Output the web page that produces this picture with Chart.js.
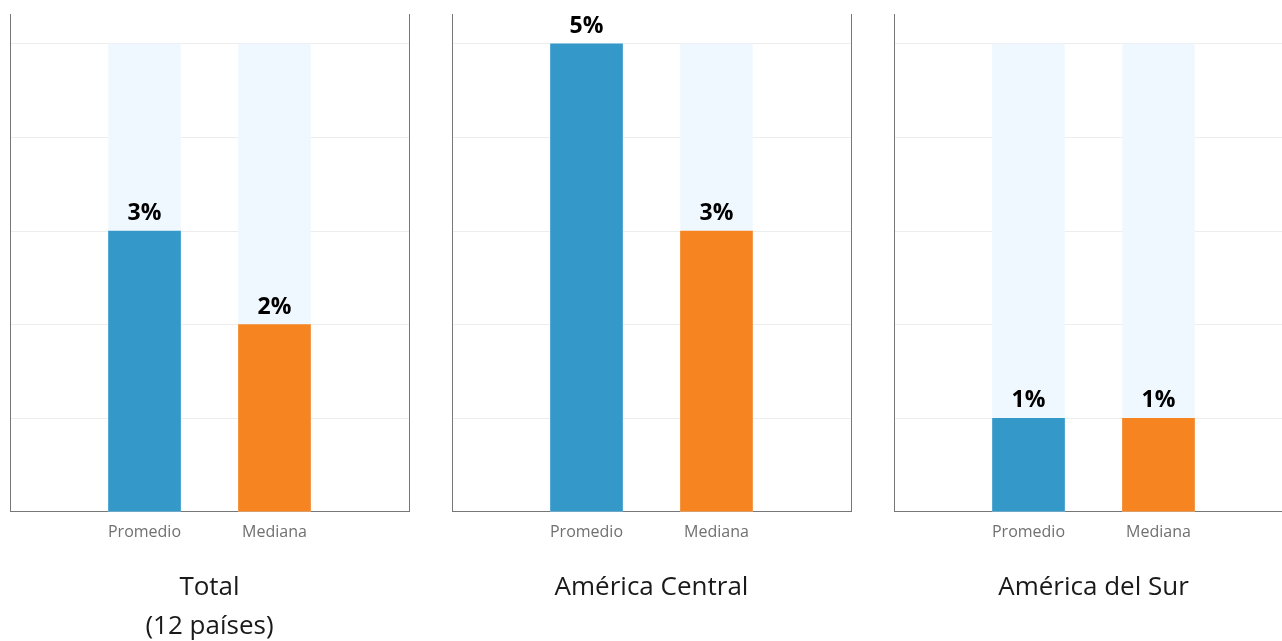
<!DOCTYPE html>
<html>
<head>
<meta charset="utf-8">
<script src="https://cdn.jsdelivr.net/npm/chart.js@4/dist/chart.umd.min.js"></script>
<style>
  html, body { margin: 0; padding: 0; background: #fff; overflow: hidden; }
  #wrap { position: relative; width: 1282px; height: 641px; overflow: hidden; }
  .panel { position: absolute; top: 0; width: 442px; height: 650px; }
</style>
</head>
<body>
<div id="wrap">
  <div class="panel" style="left:0px"><canvas id="c0"></canvas></div>
  <div class="panel" style="left:442px"><canvas id="c1"></canvas></div>
  <div class="panel" style="left:884px"><canvas id="c2"></canvas></div>
</div>
<script>
// data
const categories = ['Promedio', 'Mediana'];
const totalValues = [3, 2];
const centralValues = [5, 3];
const surValues = [1, 1];
const trackValue = 5; // light background bar height
const panelTitles = [
  ['Total', '(12 países)'],
  ['América Central', ''],
  ['América del Sur', '']
];
const panelValues = [totalValues, centralValues, surValues];

const BAR_COLORS = ['#3498c9', '#f58421'];
const TRACK_COLOR = '#f0f8ff';
const AXIS_COLOR = '#777777';
const FONT = '"Open Sans", "Noto Sans", sans-serif';

// draws the "3%" style labels above the coloured bars
const valueLabels = {
  id: 'valueLabels',
  afterDatasetsDraw(chart) {
    const ctx = chart.ctx;
    const meta = chart.getDatasetMeta(0);
    const values = chart.data.datasets[0].data;
    ctx.save();
    ctx.font = 'bold 23px ' + FONT;
    ctx.fillStyle = '#000';
    ctx.textAlign = 'center';
    ctx.textBaseline = 'alphabetic';
    meta.data.forEach((bar, i) => {
      ctx.fillText(values[i].y + '%', bar.x, bar.y - 11);
    });
    ctx.restore();
  }
};

function makePanel(id, values, title) {
  const ctx = document.getElementById(id).getContext('2d');
  return new Chart(ctx, {
    type: 'bar',
    data: {
      datasets: [
        {
          data: values.map((v, i) => ({ x: i, y: v })),
          backgroundColor: BAR_COLORS,
          barThickness: 72,
          grouped: false,
          order: 0
        },
        {
          data: categories.map((c, i) => ({ x: i, y: trackValue })),
          backgroundColor: TRACK_COLOR,
          barThickness: 72,
          grouped: false,
          order: 1
        }
      ]
    },
    options: {
      responsive: true,
      maintainAspectRatio: false,
      animation: false,
      layout: { padding: { left: 10, right: 33, top: 14, bottom: 0 } },
      plugins: {
        legend: { display: false },
        tooltip: { enabled: false },
        title: {
          display: true,
          position: 'bottom',
          text: title,
          color: '#1a1a1a',
          font: { family: FONT, size: 26, weight: 'normal', lineHeight: 1.5 },
          padding: { top: 15, bottom: 4 }
        }
      },
      scales: {
        x: {
          type: 'linear',
          min: -1.035,
          max: 2.035,
          offset: false,
          grid: { display: false, drawTicks: false, offset: false },
          border: { display: true, color: AXIS_COLOR, width: 1 },
          afterBuildTicks: (axis) => {
            axis.ticks = categories.map((c, i) => ({ value: i }));
          },
          ticks: {
            autoSkip: false,
            maxRotation: 0,
            padding: 11,
            color: '#707070',
            font: { family: FONT, size: 16 },
            callback: (v) => categories[v] ?? ''
          }
        },
        y: {
          min: 0,
          max: 5.32,
          afterBuildTicks: (axis) => {
            axis.ticks = axis.ticks.filter(t => Number.isInteger(t.value));
          },
          ticks: { display: false, stepSize: 1 },
          grid: { color: '#ededed', drawTicks: false },
          border: { display: true, color: AXIS_COLOR, width: 1 }
        },
        y1: {
          position: 'right',
          min: 0,
          max: 1,
          ticks: { display: false },
          grid: { display: false, drawTicks: false },
          border: { display: true, color: AXIS_COLOR, width: 1 }
        }
      }
    },
    plugins: [valueLabels]
  });
}

panelValues.forEach((vals, i) => makePanel('c' + i, vals, panelTitles[i]));
</script>
</body>
</html>
